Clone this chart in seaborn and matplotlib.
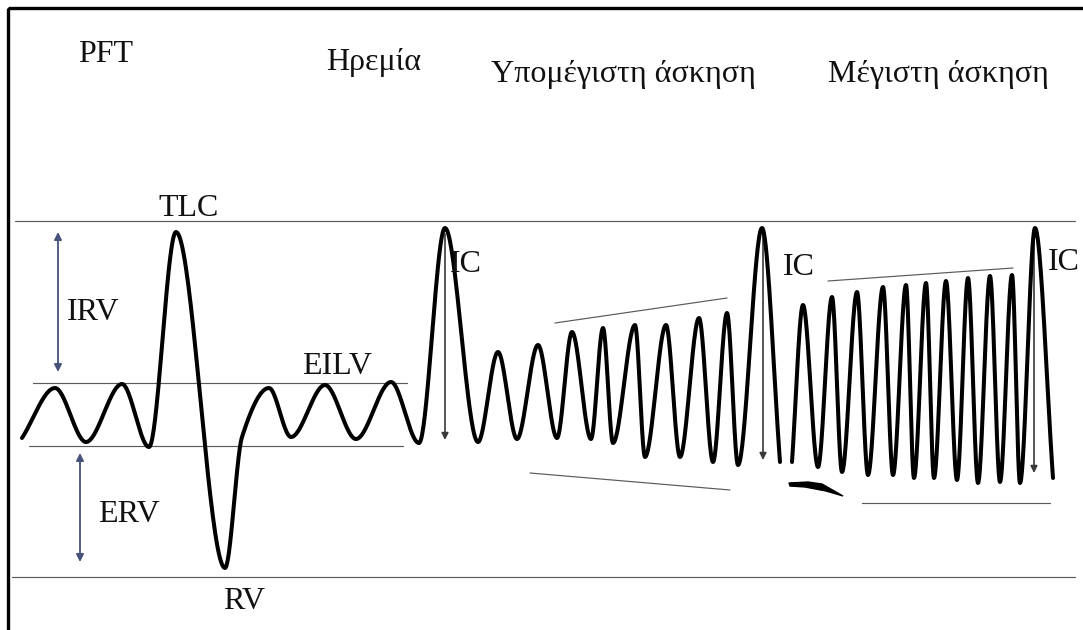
import numpy as np
import pandas as pd
import matplotlib
matplotlib.use("Agg")
import matplotlib.pyplot as plt
from matplotlib.patches import Rectangle, Polygon
import seaborn as sns

# ---------------- data (pixel-like units) ----------------
# waveform extrema, segment 1 (PFT -> rest -> submaximal exercise)
seg1_x = [22, 55, 86, 122, 149, 176, 225, 242, 269, 291, 325, 356, 391, 419, 445,
          478, 498, 517, 538, 557, 572, 591, 603, 613, 635, 645, 666, 680, 699,
          713, 727, 738, 762, 780]
seg1_y = [438, 388, 442, 384, 447, 232, 568, 437, 388, 437, 385, 439, 382, 443, 228,
          442, 352, 439, 345, 438, 332, 439, 328, 443, 325, 457, 325, 457, 318,
          462, 313, 465, 228, 462]
# waveform extrema, segment 2 (maximal exercise)
seg2_x = [792, 803, 818, 832, 842, 857, 868, 883, 893, 906, 914, 926, 934, 946,
          957, 968, 978, 990, 1000, 1012, 1020, 1035, 1053]
seg2_y = [462, 305, 467, 297, 472, 292, 475, 287, 475, 285, 478, 283, 478, 281,
          480, 278, 483, 276, 482, 275, 483, 228, 478]

# reference lines (x0, y0, x1, y1)
ref_lines = {
    "TLC": (15, 221, 1075, 221),
    "RV": (12, 577, 1075, 577),
    "EILV": (33, 383, 407, 383),
    "EELV": (29, 446, 403, 446),
    "sub_top": (555, 323, 727, 298),
    "sub_bottom": (530, 473, 730, 490),
    "max_top": (828, 281, 1013, 268),
    "max_bottom": (862, 503, 1050, 503),
}

# double arrows (x, y_top, y_bottom)
vol_arrows = {"IRV": (58, 232, 372), "ERV": (80, 453, 562)}
# IC arrows (x, y_top, y_bottom)
ic_arrows = [(445, 234, 440), (763, 234, 460), (1034, 234, 473)]

# wedge mark
wedge_x = [789, 808, 822, 843, 826, 805, 790]
wedge_y = [483, 482, 484, 496, 491, 487, 486]

# titles and labels: (text, x_left, y_baseline)
titles = [("PFT", 78, 62), ("Ηρεμία", 326, 70),
          ("Υπομέγιστη άσκηση", 491, 82), ("Μέγιστη άσκηση", 828, 82)]
labels = [("TLC", 158, 216), ("IC", 450, 272), ("IC", 783, 275), ("IC", 1048, 270),
          ("IRV", 67, 320), ("EILV", 302, 374), ("ERV", 98, 522), ("RV", 223, 609)]


def pchip(x, y, n=40):
    x = np.asarray(x, float); y = np.asarray(y, float)
    h = np.diff(x); d = np.diff(y) / h
    m = np.zeros_like(x)
    for k in range(1, len(x) - 1):
        if d[k - 1] * d[k] > 0:
            w1 = 2 * h[k] + h[k - 1]; w2 = h[k] + 2 * h[k - 1]
            m[k] = (w1 + w2) / (w1 / d[k - 1] + w2 / d[k])
    m[0] = d[0]; m[-1] = d[-1]
    xs, ys = [], []
    for k in range(len(x) - 1):
        t = np.linspace(0, 1, n, endpoint=(k == len(x) - 2))
        h00 = 2 * t**3 - 3 * t**2 + 1; h10 = t**3 - 2 * t**2 + t
        h01 = -2 * t**3 + 3 * t**2; h11 = t**3 - t**2
        xs.append(x[k] + t * h[k])
        ys.append(h00 * y[k] + h10 * h[k] * m[k] + h01 * y[k + 1] + h11 * h[k] * m[k + 1])
    return np.concatenate(xs), np.concatenate(ys)


sns.set_theme(style="white")
plt.rcParams["font.family"] = ["Liberation Serif", "DejaVu Serif"]

fig = plt.figure(figsize=(10.83, 6.30), dpi=100)
ax = fig.add_axes([0, 0, 1, 1])

# reference lines
for key, (x0, y0, x1, y1) in ref_lines.items():
    ax.plot([x0, x1], [y0, y1], color="#5a5a5a", lw=0.85, zorder=1)

# waveform
frames = []
for sid, (sx, sy) in enumerate([(seg1_x, seg1_y), (seg2_x, seg2_y)]):
    cx, cy = pchip(sx, sy)
    frames.append(pd.DataFrame({"x": cx, "y": cy, "seg": sid}))
wave = pd.concat(frames, ignore_index=True)
sns.lineplot(data=wave, x="x", y="y", units="seg", estimator=None, sort=False,
             color="black", lw=2.9, ax=ax, zorder=3)
ax.set_xlim(0, 1083)
ax.set_ylim(630, 0)
ax.axis("off")

# arrows
for name, (x, y0, y1) in vol_arrows.items():
    ax.annotate("", xy=(x, y0), xytext=(x, y1),
                arrowprops=dict(arrowstyle="<|-|>", color="#46527a", lw=1.3,
                                mutation_scale=11, shrinkA=0, shrinkB=0), zorder=2)
for (x, y0, y1) in ic_arrows:
    ax.annotate("", xy=(x, y1), xytext=(x, y0),
                arrowprops=dict(arrowstyle="-|>", color="#3a3a3a", lw=1.2,
                                mutation_scale=10, shrinkA=0, shrinkB=0), zorder=2)

ax.add_patch(Polygon(list(zip(wedge_x, wedge_y)), closed=True, color="black", zorder=3))

for txt, x, y in titles:
    ax.text(x, y, txt, fontsize=23, ha="left", va="baseline", color="#111111")
for txt, x, y in labels:
    ax.text(x, y, txt, fontsize=23, ha="left", va="baseline", color="#111111")

# frame
ax.add_patch(Rectangle((8, 8), 1200, 800, fill=False, ec="black", lw=2.4,
                       clip_on=False, zorder=5))

fig.savefig("out.png", dpi=100)
